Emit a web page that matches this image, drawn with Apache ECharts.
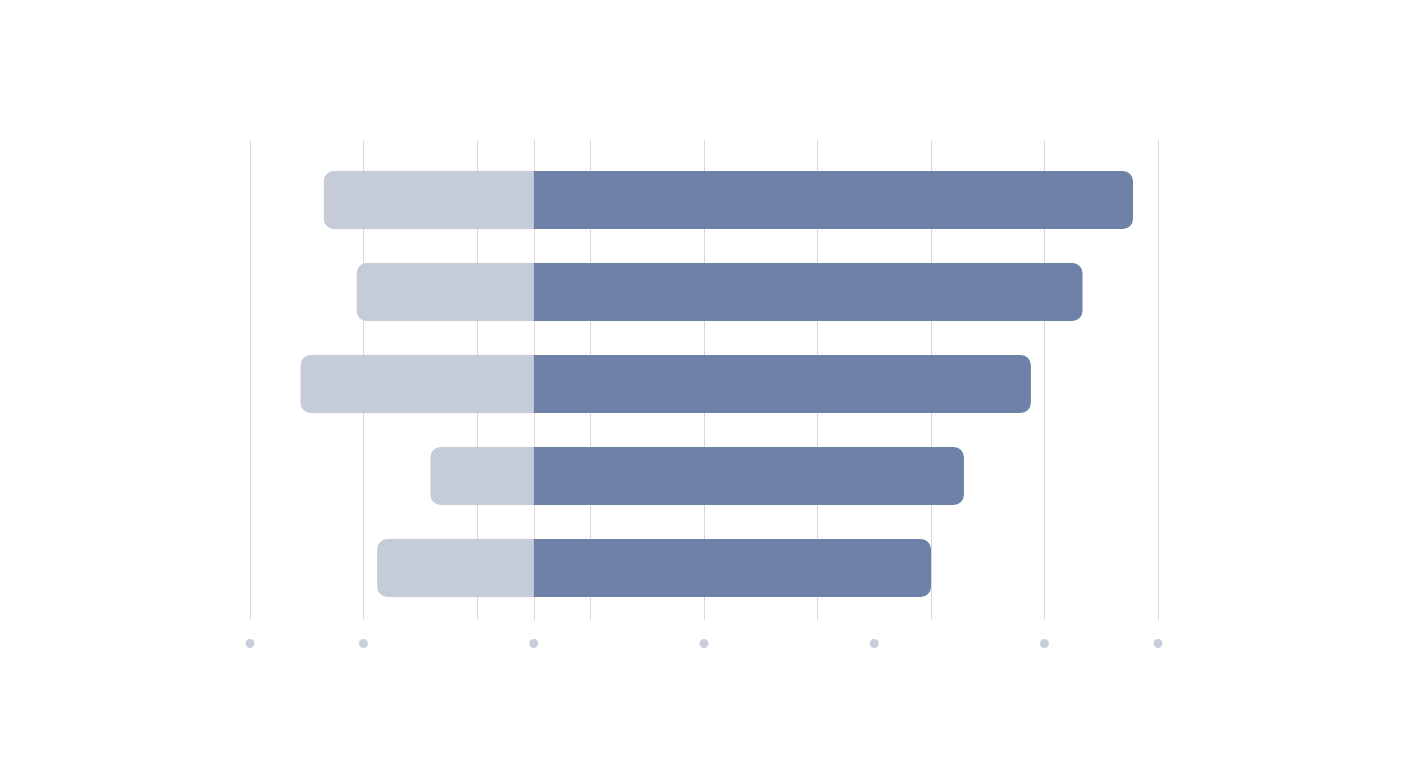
<!DOCTYPE html>
<html>
<head>
<meta charset="utf-8">
<script src="https://cdn.jsdelivr.net/npm/echarts@6/dist/echarts.min.js"></script>
<style>
    html, body { margin: 0; padding: 0; background: #ffffff; }
    #main { width: 1408px; height: 768px; }
</style>
</head>
<body>
<div id="main"></div>
<script>
// 类目（从上到下）
var categories = ['A', 'B', 'C', 'D', 'E'];
// 左侧浅色条（负值）
var leftValues = [-37.0, -31.2, -41.1, -18.2, -27.6];
// 右侧深色条（正值）
var rightValues = [105.6, 96.7, 87.6, 75.8, 70.0];
// 坐标轴范围和刻度
var axisMin = -50;
var axisMax = 110;
var gridTicks = [-50, -30, -10, 10, 30, 50, 70, 90, 110];
var labelTicks = [-50, -30, 0, 30, 60, 90, 110];

var lineColor = '#d6d8dc';

var option = {
    animation: false,
    grid: [
        // 条形所在的网格
        { left: 250, right: 250, top: 154, bottom: 154 },
        // 网格线和刻度点所在的网格
        { left: 250, right: 250, top: 140, bottom: 148 }
    ],
    xAxis: [
        {
            gridIndex: 0,
            type: 'value',
            min: axisMin,
            max: axisMax,
            show: false
        },
        {
            gridIndex: 1,
            type: 'value',
            min: axisMin,
            max: axisMax,
            axisLine: { show: false },
            axisTick: { show: false, customValues: gridTicks },
            splitLine: { show: true, lineStyle: { color: lineColor, width: 1 } },
            axisLabel: {
                customValues: labelTicks,
                margin: 19,
                formatter: function () {
                    return '{d| }';
                },
                rich: {
                    d: {
                        width: 9,
                        height: 9,
                        borderRadius: 4.5,
                        backgroundColor: '#c9cfda'
                    }
                }
            }
        }
    ],
    yAxis: [
        {
            gridIndex: 0,
            type: 'category',
            inverse: true,
            data: categories,
            show: false
        },
        {
            gridIndex: 1,
            type: 'value',
            min: 0,
            max: 1,
            axisLine: { show: true, onZero: true, lineStyle: { color: lineColor, width: 1 } },
            axisTick: { show: false },
            axisLabel: { show: false },
            splitLine: { show: false }
        }
    ],
    series: [
        {
            type: 'bar',
            xAxisIndex: 0,
            yAxisIndex: 0,
            stack: 'total',
            barWidth: 58,
            data: leftValues,
            itemStyle: { color: '#c5ccd8', borderRadius: [10, 0, 0, 10] },
            z: 3
        },
        {
            type: 'bar',
            xAxisIndex: 0,
            yAxisIndex: 0,
            stack: 'total',
            barWidth: 58,
            data: rightValues,
            itemStyle: { color: '#6e82a7', borderRadius: [0, 10, 10, 0] },
            z: 3
        }
    ]
};

var myChart = echarts.init(document.getElementById('main'));
myChart.setOption(option);
</script>
</body>
</html>
